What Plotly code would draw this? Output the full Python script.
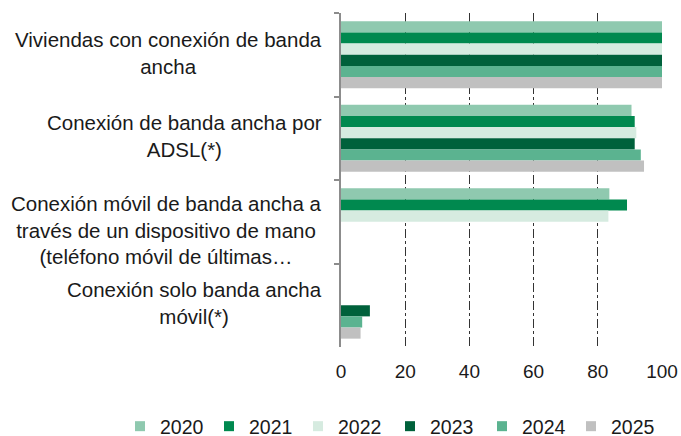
import plotly.graph_objects as go

categories = [
    "Viviendas con conexión de banda<br>ancha",
    "Conexión de banda ancha por<br>ADSL(*)",
    "Conexión móvil de banda ancha a<br>través de un dispositivo de mano<br>(teléfono móvil de últimas…",
    "Conexión solo banda ancha<br>móvil(*)",
]
years = ["2020", "2021", "2022", "2023", "2024", "2025"]
values = {
    "2020": [100, 90.5, 83.6, None],
    "2021": [100, 91.5, 89.1, None],
    "2022": [100, 92.0, 83.3, None],
    "2023": [100, 91.5, None, 9.0],
    "2024": [100, 93.4, None, 6.6],
    "2025": [100, 94.4, None, 6.1],
}
x_ticks = [0, 20, 40, 60, 80, 100]

colors = ["#8FC9AF", "#00894F", "#D6EBE0", "#00613B", "#5BB390", "#C0C0C0"]
FONT = "Arial, Liberation Sans, sans-serif"
W, H = 681, 436
cat_ids = ["c0", "c1", "c2", "c3"]
legend_left_px = [120, 209, 298, 390, 482, 571]

fig = go.Figure()
for yr, col in zip(years, colors):
    fig.add_trace(go.Bar(
        x=values[yr], y=cat_ids, name=yr, orientation="h",
        marker=dict(color=col, line=dict(width=0)), showlegend=False,
    ))

# legend entries (square swatches), one small legend per year
legend_layouts = {}
for i, (yr, col) in enumerate(zip(years, colors)):
    lname = "legend" if i == 0 else f"legend{i + 1}"
    fig.add_trace(go.Scatter(
        x=[None], y=[None], name=yr, mode="markers", legend=lname,
        marker=dict(symbol="square", size=10, color=col), showlegend=True,
    ))
    legend_layouts[lname] = dict(
        orientation="h", xref="container", x=legend_left_px[i] / W,
        xanchor="left", yref="container", y=9.5 / H, yanchor="middle",
        font=dict(size=19.5, family=FONT, color="#1a1a1a"),
        itemwidth=30, entrywidth=52, bgcolor="rgba(0,0,0,0)",
    )

label_shift = [2, 2, -8, 2]
for cid, text, ys in zip(cat_ids, categories, label_shift):
    fig.add_annotation(
        x=0, xref="paper", xanchor="right", xshift=-17,
        y=cid, yref="y", yanchor="middle", yshift=ys,
        text=text, showarrow=False, align="center",
        font=dict(family=FONT, size=20.5, color="#1a1a1a"),
    )

fig.update_layout(
    width=W, height=H,
    margin=dict(l=341, r=19, t=13, b=89, autoexpand=False),
    paper_bgcolor="white", plot_bgcolor="white",
    barmode="group", bargap=0.2, bargroupgap=0,
    font=dict(family=FONT, size=19, color="#1a1a1a"),
    showlegend=True,
    xaxis=dict(
        range=[0, 100], tickvals=x_ticks, showgrid=True,
        gridcolor="#333333", griddash="dashdot", gridwidth=1,
        zeroline=False, showline=False, ticks="", automargin=False,
        tickfont=dict(size=19, family=FONT, color="#1a1a1a"),
        ticklabelstandoff=11,
    ),
    yaxis=dict(
        autorange="reversed", showticklabels=False, automargin=False,
        showline=True, linecolor="#8c8c8c", linewidth=1.5,
        ticks="outside", ticklen=5, tickcolor="#8c8c8c", tickwidth=1.5,
        tickson="boundaries", showgrid=False,
    ),
    **legend_layouts,
)

fig.write_html(
    "out.html",
    config={"displayModeBar": False},
    post_script="document.body.style.margin='0';document.body.style.overflow='hidden';",
)
